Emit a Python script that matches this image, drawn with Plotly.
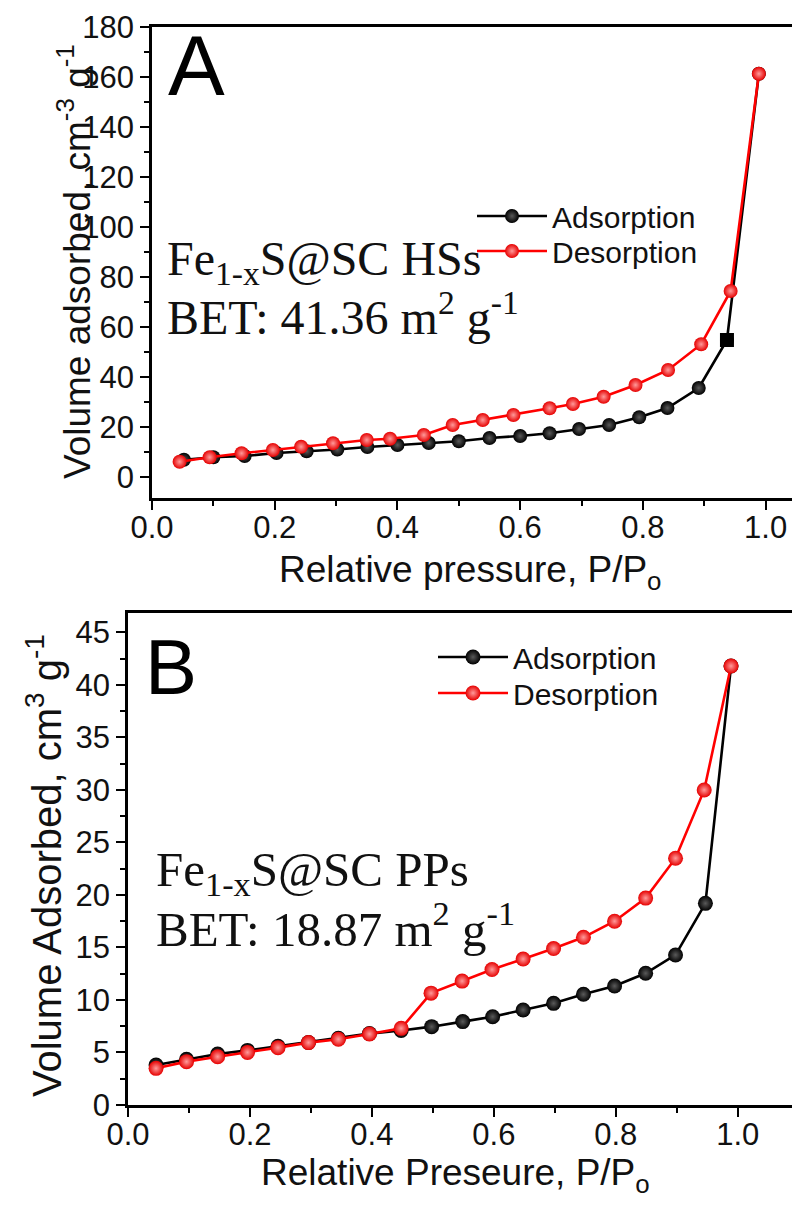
import plotly.graph_objects as go

# ---- Panel A: Fe1-xS@SC HSs isotherm ----
a_ads_p = [0.052, 0.100, 0.151, 0.203, 0.252, 0.302, 0.351, 0.400, 0.451, 0.500,
           0.550, 0.600, 0.648, 0.696, 0.745, 0.794, 0.840, 0.891, 0.937, 0.989]
a_ads_v = [6.9, 7.9, 8.4, 9.6, 10.3, 11.0, 12.0, 12.8, 13.6, 14.3,
           15.6, 16.4, 17.5, 19.2, 20.8, 23.9, 27.6, 35.6, 54.8, 161.3]
a_des_p = [0.045, 0.094, 0.146, 0.197, 0.243, 0.295, 0.350, 0.388, 0.443, 0.490,
           0.539, 0.589, 0.648, 0.686, 0.736, 0.788, 0.841, 0.895, 0.943, 0.989]
a_des_v = [6.1, 7.9, 9.5, 10.8, 12.1, 13.5, 14.8, 15.3, 16.8, 20.8,
           22.8, 24.8, 27.5, 29.2, 32.1, 36.8, 42.8, 53.1, 74.4, 161.3]
# index of the adsorption point drawn as a square
a_square_idx = 18

# ---- Panel B: Fe1-xS@SC PPs isotherm ----
b_ads_p = [0.046, 0.096, 0.147, 0.196, 0.246, 0.296, 0.345, 0.396, 0.448, 0.498,
           0.549, 0.598, 0.648, 0.698, 0.747, 0.798, 0.849, 0.898, 0.947, 0.989]
b_ads_v = [3.8, 4.35, 4.85, 5.2, 5.6, 5.95, 6.35, 6.8, 7.1, 7.46,
           7.94, 8.41, 9.05, 9.68, 10.54, 11.33, 12.54, 14.29, 19.2, 41.8]
b_des_p = [0.046, 0.096, 0.147, 0.196, 0.246, 0.296, 0.345, 0.396, 0.448, 0.497,
           0.548, 0.597, 0.648, 0.698, 0.747, 0.798, 0.849, 0.898, 0.945, 0.989]
b_des_v = [3.49, 4.13, 4.6, 5.01, 5.46, 5.94, 6.26, 6.76, 7.3, 10.65,
           11.8, 12.9, 13.9, 14.9, 15.97, 17.5, 19.7, 23.5, 30.0, 41.8]

SANS = "Liberation Sans, Arial, sans-serif"
SERIF = "Liberation Serif, Times New Roman, serif"
W, H = 792, 1209

def px_x(x):
    return x / W

def px_y(y):
    return 1 - y / H

def ball(color, highlight, size):
    return dict(color=color, size=size, line=dict(width=0),
                gradient=dict(type="radial", color=highlight))

BLACK_HI = "#5a5a5a"
RED_HI = "#ff9a9a"

fig = go.Figure()

fig.add_trace(go.Scatter(
    x=a_ads_p, y=a_ads_v, mode="lines+markers", name="Adsorption",
    line=dict(color="black", width=2.6),
    marker=ball("black", BLACK_HI, 14),
    xaxis="x", yaxis="y", legend="legend"))
# solid square marker on top of the circle at the knee point
fig.add_trace(go.Scatter(
    x=[a_ads_p[a_square_idx]], y=[a_ads_v[a_square_idx]], mode="markers",
    marker=dict(color="black", symbol="square", size=14, line=dict(width=0)),
    showlegend=False, hoverinfo="skip", xaxis="x", yaxis="y"))
fig.add_trace(go.Scatter(
    x=a_des_p, y=a_des_v, mode="lines+markers", name="Desorption",
    line=dict(color="#ff0000", width=2.6),
    marker=ball("#e60000", RED_HI, 14),
    xaxis="x", yaxis="y", legend="legend3"))

fig.add_trace(go.Scatter(
    x=b_ads_p, y=b_ads_v, mode="lines+markers", name="Adsorption",
    line=dict(color="black", width=2.6),
    marker=ball("black", BLACK_HI, 15),
    xaxis="x2", yaxis="y2", legend="legend2"))
fig.add_trace(go.Scatter(
    x=b_des_p, y=b_des_v, mode="lines+markers", name="Desorption",
    line=dict(color="#ff0000", width=2.6),
    marker=ball("#e60000", RED_HI, 15),
    xaxis="x2", yaxis="y2", legend="legend4"))

axis_common = dict(
    showline=True, linecolor="black", linewidth=2.6,
    ticks="outside", ticklen=9, tickwidth=2.4, tickcolor="black",
    showgrid=False, zeroline=False, automargin=False,
    tickfont=dict(family=SANS, size=31, color="#111"),
)
minor_x = dict(dtick=0.1, ticks="outside", ticklen=5, tickwidth=2.2, tickcolor="black")


def legend_at(x, y):
    return dict(x=px_x(x), y=px_y(y), xanchor="left", yanchor="middle",
                font=dict(family=SANS, size=30, color="#111"),
                bgcolor="rgba(0,0,0,0)", itemwidth=70, borderwidth=0)


# plot-area edges in pixels
A_left, A_top, A_bot = 152, 27, 498
B_left, B_top, B_bot = 128, 613, 1105

fig.update_layout(
    width=W, height=H,
    margin=dict(l=0, r=0, t=0, b=0, autoexpand=False),
    paper_bgcolor="white", plot_bgcolor="white",
    showlegend=True,
    xaxis=dict(axis_common, domain=[px_x(A_left), 1], range=[0, 1.043],
               dtick=0.2, tickformat=".1f", mirror=True, anchor="y", minor=minor_x,
               ticklabelstandoff=-9),
    yaxis=dict(axis_common, domain=[px_y(A_bot), px_y(A_top)], range=[-8.4, 180],
               dtick=20, anchor="x",
               minor=dict(dtick=10, ticks="outside", ticklen=5, tickwidth=2.2, tickcolor="black")),
    xaxis2=dict(axis_common, domain=[px_x(B_left), 1], range=[0, 1.089],
                dtick=0.2, tickformat=".1f", mirror=True, anchor="y2", minor=minor_x,
                ticklabelstandoff=-9),
    yaxis2=dict(axis_common, domain=[px_y(B_bot), px_y(B_top)], range=[0, 46.85],
                dtick=5, anchor="x2",
                minor=dict(dtick=2.5, ticks="outside", ticklen=5, tickwidth=2.2, tickcolor="black")),
    legend=legend_at(472, 216),
    legend3=legend_at(472, 251),
    legend2=legend_at(433, 657),
    legend4=legend_at(433, 693),
)

ann = []
# panel letters
ann.append(dict(text="A", x=px_x(166), y=px_y(66), xref="paper", yref="paper",
                xanchor="left", yanchor="middle", showarrow=False,
                font=dict(family=SANS, size=85, color="black")))
ann.append(dict(text="B", x=px_x(143), y=px_y(667), xref="paper", yref="paper",
                xanchor="left", yanchor="middle", showarrow=False,
                font=dict(family=SANS, size=78, color="black")))
# sample labels
for txt, x, y, size in [
    ("Fe<sub>1-x</sub>S@SC HSs", 165, 262, 48),
    ("BET: 41.36 m<sup>2</sup> g<sup>-1</sup>", 165, 314, 48),
    ("Fe<sub>1-x</sub>S@SC PPs", 154, 872, 49),
    ("BET: 18.87 m<sup>2</sup> g<sup>-1</sup>", 154, 925, 49),
]:
    ann.append(dict(text=txt, x=px_x(x), y=px_y(y), xref="paper", yref="paper",
                    xanchor="left", yanchor="middle", showarrow=False,
                    font=dict(family=SERIF, size=size, color="#111")))
# axis titles
ann.append(dict(text="Relative pressure, P/P<sub>o</sub>", x=px_x(470), y=px_y(572),
                xref="paper", yref="paper", xanchor="center", yanchor="middle",
                showarrow=False, font=dict(family=SANS, size=37, color="#111")))
ann.append(dict(text="Relative Preseure, P/P<sub>o</sub>", x=px_x(455), y=px_y(1175),
                xref="paper", yref="paper", xanchor="center", yanchor="middle",
                showarrow=False, font=dict(family=SANS, size=37, color="#111")))
ann.append(dict(text="Volume adsorbed, cm<sup>-3</sup> g<sup>-1</sup>", x=px_x(74), y=px_y(262),
                xref="paper", yref="paper", xanchor="center", yanchor="middle",
                textangle=-90, showarrow=False, font=dict(family=SANS, size=37, color="#111")))
ann.append(dict(text="Volume Adsorbed, cm<sup>3</sup> g<sup>-1</sup>", x=px_x(44), y=px_y(866),
                xref="paper", yref="paper", xanchor="center", yanchor="middle",
                textangle=-90, showarrow=False, font=dict(family=SANS, size=40, color="#111")))
fig.update_layout(annotations=ann)

fig.write_html("out.html", post_script="document.body.style.margin='0';")
